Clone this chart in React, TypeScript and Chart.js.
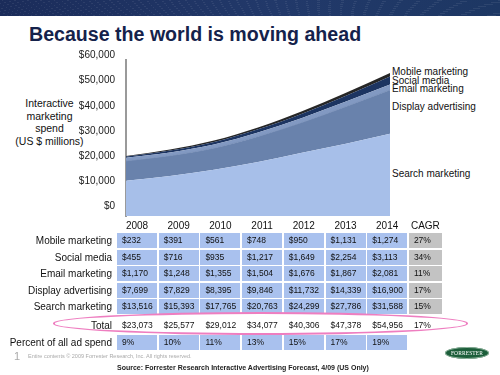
import React, { useEffect, useRef } from "react";
import { Chart, registerables } from "chart.js";

Chart.register(...registerables);

const years = ["2008", "2009", "2010", "2011", "2012", "2013", "2014"];
const mobile = [232, 391, 561, 748, 950, 1131, 1274];
const social = [455, 716, 935, 1217, 1649, 2254, 3113];
const email = [1170, 1248, 1355, 1504, 1676, 1867, 2081];
const display = [7699, 7829, 8395, 9846, 11732, 14339, 16900];
const search = [13516, 15393, 17765, 20763, 24299, 27786, 31588];
const totals = [23073, 25577, 29012, 34077, 40306, 47378, 54956];
const cagr = ["27%", "34%", "11%", "17%", "15%", "17%"];
const totalCagr = "17%";
const percentOfAll = ["9%", "10%", "11%", "13%", "15%", "17%", "19%"];
const yTicks = [0, 10000, 20000, 30000, 40000, 50000, 60000];

const FONT = "'Liberation Sans', Arial, Helvetica, sans-serif";
const fmt = (v: number) => "$" + v.toLocaleString("en-US");

const seriesRows = [
  { name: "Mobile marketing", values: mobile, cagr: cagr[0] },
  { name: "Social media", values: social, cagr: cagr[1] },
  { name: "Email marketing", values: email, cagr: cagr[2] },
  { name: "Display advertising", values: display, cagr: cagr[3] },
  { name: "Search marketing", values: search, cagr: cagr[4] },
];

function AreaChart() {
  const ref = useRef<HTMLCanvasElement | null>(null);
  useEffect(() => {
    if (!ref.current) return;
    Chart.defaults.font.family = FONT;
    const chart = new Chart(ref.current, {
      type: "line",
      data: {
        labels: years,
        datasets: [
          { label: "Search marketing", data: search, backgroundColor: "#a7bfe9", borderWidth: 0, fill: "origin" },
          { label: "Display advertising", data: display, backgroundColor: "#6982ac", borderColor: "#7c93bb", borderWidth: 1, fill: "-1" },
          { label: "Email marketing", data: email, backgroundColor: "#8299c2", borderWidth: 0, fill: "-1" },
          { label: "Social media", data: social, backgroundColor: "#1c3461", borderWidth: 0, fill: "-1" },
          { label: "Mobile marketing", data: mobile, backgroundColor: "#262626", borderWidth: 0, fill: "-1" },
        ].map((d) => ({ ...d, pointRadius: 0, cubicInterpolationMode: "monotone" as const })),
      },
      options: {
        animation: false,
        responsive: false,
        maintainAspectRatio: false,
        layout: { padding: { top: 10, bottom: 7, left: 0, right: 0 } },
        plugins: { legend: { display: false }, tooltip: { enabled: false } },
        scales: {
          x: { display: false, offset: false },
          y: { stacked: true, min: 0, max: 60000, display: false },
          yLabels: {
            position: "left",
            min: -1961,
            max: 60000,
            afterFit: (s: any) => {
              s.width = 56;
            },
            afterBuildTicks: (s: any) => {
              s.ticks = yTicks.map((v) => ({ value: v }));
            },
            grid: { display: false },
            border: { display: true, color: "#9a9a9a", width: 2 },
            ticks: {
              color: "#1a1a1a",
              font: { size: 10, family: FONT },
              padding: 3,
              labelOffset: -4.5,
              callback: (v: any) => fmt(Number(v)),
            },
          },
        },
      },
    });
    return () => chart.destroy();
  }, []);
  return (
    <canvas
      ref={ref}
      width={320}
      height={175}
      style={{ position: "absolute", left: 70, top: 50, width: 320, height: 175 }}
    />
  );
}

const colLeft = (i: number) => 117 + i * 41.7;
const rowTop = [233, 249.5, 266, 282.5, 299];

export default function App() {
  const abs = (o: React.CSSProperties): React.CSSProperties => ({ position: "absolute", ...o });
  const cellStyle = (left: number, top: number, w: number, bg: string): React.CSSProperties =>
    abs({
      left,
      top,
      width: w,
      height: 15,
      background: bg,
      fontSize: 8.5,
      lineHeight: "15px",
      paddingLeft: 5,
      boxSizing: "border-box",
      color: "#111",
      whiteSpace: "nowrap",
    });
  const rowLabel = (text: string, top: number) => (
    <div
      key={"l" + text}
      style={abs({ right: 500 - 112, top, height: 15, lineHeight: "15px", fontSize: 10, color: "#111", whiteSpace: "nowrap", textAlign: "right" })}
    >
      {text}
    </div>
  );

  return (
    <div
      style={{
        position: "fixed",
        left: 0,
        top: 0,
        width: 500,
        height: 375,
        overflow: "hidden",
        background: "#fff",
        fontFamily: FONT,
      }}
    >
      <div
        style={abs({
          left: 0,
          top: 0,
          width: 500,
          height: 16,
          background:
            "repeating-radial-gradient(ellipse at 110% 700%, rgba(255,255,255,0.07) 0px, rgba(255,255,255,0.07) 1px, transparent 1px, transparent 9px), linear-gradient(90deg, #1b2c5a, #22396a 55%, #1d3763)",
        })}
      />
      <div style={abs({ left: 29, top: 22.5, fontSize: 19.6, fontWeight: 700, color: "#15224b", whiteSpace: "nowrap" })}>
        Because the world is moving ahead
      </div>

      <div style={abs({ left: 0, width: 99, top: 97, fontSize: 10.5, lineHeight: "12.5px", textAlign: "center", color: "#111" })}>
        Interactive
        <br />
        marketing
        <br />
        spend
        <br />
        (US $ millions)
      </div>

      <AreaChart />

      <div style={abs({ left: 392, top: 66, fontSize: 10, lineHeight: "11px", color: "#111", whiteSpace: "nowrap" })}>Mobile marketing</div>
      <div style={abs({ left: 392, top: 74.5, fontSize: 10, lineHeight: "11px", color: "#111", whiteSpace: "nowrap" })}>Social media</div>
      <div style={abs({ left: 392, top: 83, fontSize: 10, lineHeight: "11px", color: "#111", whiteSpace: "nowrap" })}>Email marketing</div>
      <div style={abs({ left: 392, top: 100.5, fontSize: 10, lineHeight: "11px", color: "#111", whiteSpace: "nowrap" })}>Display advertising</div>
      <div style={abs({ left: 392, top: 168, fontSize: 10, lineHeight: "11px", color: "#111", whiteSpace: "nowrap" })}>Search marketing</div>

      {years.map((y, i) => (
        <div key={y} style={abs({ left: colLeft(i), width: 40, top: 219, fontSize: 10, lineHeight: "14px", textAlign: "center", color: "#111" })}>
          {y}
        </div>
      ))}
      <div style={abs({ left: colLeft(7), width: 33, top: 219, fontSize: 10, lineHeight: "14px", textAlign: "center", color: "#111" })}>CAGR</div>

      {seriesRows.map((r, ri) => (
        <React.Fragment key={r.name}>
          {rowLabel(r.name, rowTop[ri])}
          {r.values.map((v, i) => (
            <div key={i} style={cellStyle(colLeft(i), rowTop[ri], 40, "#a9c1ee")}>
              {fmt(v)}
            </div>
          ))}
          <div style={cellStyle(colLeft(7), rowTop[ri], 33, "#c3c3c3")}>{r.cagr}</div>
        </React.Fragment>
      ))}

      {rowLabel("Total", 318)}
      {totals.map((v, i) => (
        <div key={"t" + i} style={cellStyle(colLeft(i), 318, 40, "transparent")}>
          {fmt(v)}
        </div>
      ))}
      <div style={cellStyle(colLeft(7), 318, 33, "transparent")}>{totalCagr}</div>

      <div
        style={abs({
          left: 53,
          top: 312,
          width: 415,
          height: 22.5,
          border: "2.5px solid #ee7ec0",
          borderRadius: "50%",
          boxSizing: "border-box",
        })}
      />

      {rowLabel("Percent of all ad spend", 334.5)}
      {percentOfAll.map((p, i) => (
        <div key={"p" + i} style={cellStyle(colLeft(i), 334.5, 40, "#a9c1ee")}>
          {p}
        </div>
      ))}

      <div style={abs({ left: 14, top: 350, fontSize: 11, color: "#aaa" })}>1</div>
      <div style={abs({ left: 28, top: 353, fontSize: 5.5, color: "#aaa", whiteSpace: "nowrap" })}>
        Entire contents © 2009  Forrester Research, Inc. All rights reserved.
      </div>
      <div style={abs({ left: 117, top: 364, fontSize: 7, fontWeight: 700, color: "#222", whiteSpace: "nowrap" })}>
        Source: Forrester Research Interactive Advertising Forecast, 4/09 (US Only)
      </div>

      <div
        style={abs({
          left: 445,
          top: 347,
          width: 44,
          height: 12,
          borderRadius: "50%",
          background: "#1c5e3a",
          boxShadow: "inset 0 0 0 1px #8fb39d",
          color: "#fff",
          fontFamily: "'Liberation Serif', 'DejaVu Serif', serif",
          fontSize: 5.5,
          lineHeight: "12px",
          textAlign: "center",
          letterSpacing: 0.1,
        })}
      >
        FORRESTER
      </div>
    </div>
  );
}
